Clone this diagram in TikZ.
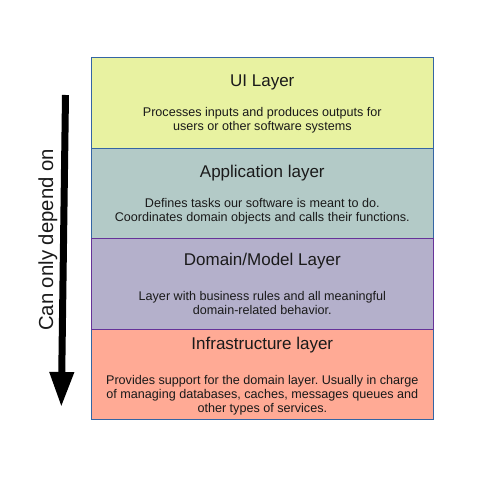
\documentclass[tikz,border=0pt]{standalone}
\usepackage{fontspec}
\setmainfont{Liberation Sans}
\usetikzlibrary{arrows.meta}
\frenchspacing
\definecolor{uifill}{HTML}{E8F2A1}
\definecolor{appfill}{HTML}{B3CAC7}
\definecolor{domfill}{HTML}{B4B0CB}
\definecolor{infrafill}{HTML}{FFAA95}
\definecolor{blueline}{HTML}{3465A4}
\definecolor{purpleline}{HTML}{663399}
\definecolor{txt}{HTML}{1A1A1A}
\begin{document}
\begin{tikzpicture}[x=1bp,y=-1bp,
  layer/.style={rectangle, inner sep=0, outer sep=0, line width=1bp,
    minimum width=342bp, anchor=north west},
  title/.style={anchor=base, inner sep=0, text=txt,
    font=\fontsize{17bp}{20bp}\selectfont},
  body/.style={anchor=north, inner sep=0, align=center, text=txt,
    font=\fontsize{12.6bp}{14.2bp}\selectfont\frenchspacing},
  dependarrow/.style={line width=7bp, -{Triangle[length=35bp,width=23bp]}},
  sidelabel/.style={rotate=90, inner sep=0, anchor=center, text=txt,
    font=\fontsize{20.3bp}{24bp}\selectfont}]
\useasboundingbox (0,0) rectangle (480,480);
\fill[white] (0,0) rectangle (480,480);
% layers
\node[layer, fill=uifill, draw=blueline, minimum height=91bp] (ui) at (91.3,57.3) {};
\node[layer, fill=appfill, draw=blueline, minimum height=90bp] (app) at (91.3,148.3) {};
\node[layer, fill=infrafill, draw=blueline, minimum height=90bp] (infra) at (91.3,329) {};
\node[layer, fill=domfill, draw=purpleline, minimum height=90.7bp] (dom) at (91.3,238.3) {};
% titles
\node[title] (uit) at (262.3,86.7) {UI Layer};
\node[title] (appt) at (262.3,178) {Application layer};
\node[title] (domt) at (262.3,265) {Domain/Model Layer};
\node[title] (infrat) at (262.3,349.3) {Infrastructure layer};
% bodies
\node[body] (uib) at (262.3,106.9) {Processes inputs and produces outputs for\\users or other software systems};
\node[body] (appb) at (262.3,198.1) {Defines tasks our software is meant to do.\\Coordinates domain objects and calls their functions.};
\node[body] (domb) at (262.3,290.8) {Layer with business rules and all meaningful\\domain-related behavior.};
\node[body] (infrab) at (262.3,374.8) {Provides support for the domain layer. Usually in charge\\of managing databases, caches, messages queues and\\other types of services.};
% arrow
\coordinate (atop) at (65.5,95);
\coordinate (abot) at (61.3,407);
\draw[dependarrow] (atop) -- (abot);
\node[sidelabel] (lbl) at (47.8,240) {Can only depend on};
\end{tikzpicture}
\end{document}
